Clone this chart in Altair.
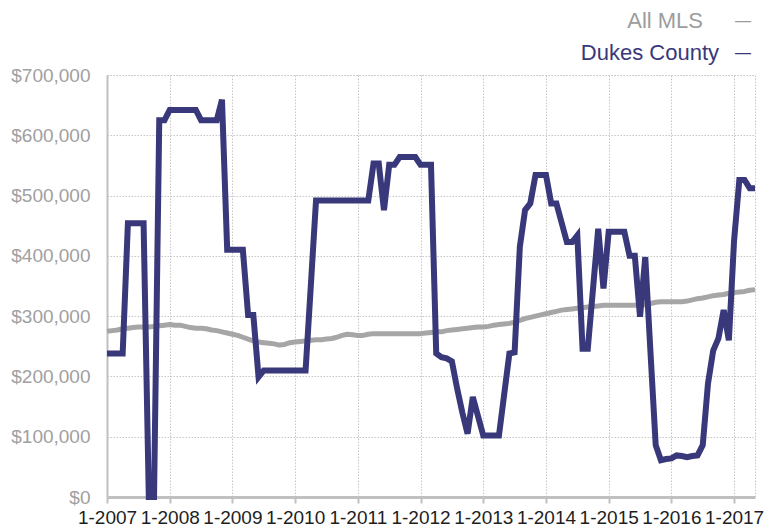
import json
import altair as alt
import pandas as pd

# ---------------- data ----------------
series_names = ["All MLS", "Dukes County"]
series_colors = ["#a6a6a6", "#38387a"]
legend_text_colors = ["#9c9c9c", "#38387a"]

tick_positions = [0, 12, 24, 36, 48, 60, 72, 84, 96, 108, 120]
tick_labels = ["1-2007", "1-2008", "1-2009", "1-2010", "1-2011", "1-2012",
               "1-2013", "1-2014", "1-2015", "1-2016", "1-2017"]
y_tick_values = [0, 100000, 200000, 300000, 400000, 500000, 600000, 700000]

# monthly values, Jan 2007 .. May 2017, in thousands of dollars
all_mls_k = [
    275, 276, 277, 279, 280, 281, 282, 282, 282, 283, 284, 285,   # 2007
    286, 285, 285, 283, 281, 280, 280, 279, 277, 276, 274, 272,   # 2008
    270, 268, 265, 262, 259, 257, 256, 255, 254, 252, 253, 256,   # 2009
    257, 258, 259, 260, 261, 261, 262, 263, 265, 268, 270, 269,   # 2010
    268, 268, 270, 271, 271, 271, 271, 271, 271, 271, 271, 271,   # 2011
    271, 272, 273, 274, 274, 276, 277, 278, 279, 280, 281, 282,   # 2012
    282, 283, 285, 286, 287, 288, 290, 293, 296, 298, 300, 302,   # 2013
    304, 306, 308, 310, 311, 312, 313, 314, 315, 316, 317, 318,   # 2014
    318, 318, 318, 318, 318, 318, 318, 319, 321, 323, 324, 324,   # 2015
    324, 324, 324, 325, 327, 329, 330, 332, 334, 335, 336, 338,   # 2016
    339, 340, 341, 343, 344,                                     # 2017
]

dukes_k = [
    238, 238, 238, 238, 454, 454, 454, 454, 0, 0, 625, 625,       # 2007
    642, 642, 642, 642, 642, 642, 625, 625, 625, 625, 659, 410,   # 2008
    410, 410, 410, 302, 302, 199, 210, 210, 210, 210, 210, 210,   # 2009
    210, 210, 210, 350, 492, 492, 492, 492, 492, 492, 492, 492,   # 2010
    492, 492, 492, 553, 553, 476, 551, 551, 564, 564, 564, 564,   # 2011
    551, 551, 551, 238, 232, 230, 225, 180, 140, 105, 166, 134,   # 2012
    102, 102, 102, 102, 170, 238, 240, 415, 476, 487, 534, 534,   # 2013
    534, 487, 487, 455, 423, 423, 434, 246, 246, 345, 445, 346,   # 2014
    440, 440, 440, 440, 400, 400, 299, 398, 240, 86, 61, 63,      # 2015
    64, 69, 68, 66, 68, 69, 86, 188, 243, 263, 310, 260,          # 2016
    426, 526, 526, 512, 512,                                     # 2017
]

assert len(all_mls_k) == len(dukes_k) == 125

months = list(range(len(dukes_k)))
df_mls = pd.DataFrame({"month": months, "value": [v * 1000 for v in all_mls_k],
                       "series": series_names[0]})
df_dukes = pd.DataFrame({"month": months, "value": [v * 1000 for v in dukes_k],
                         "series": series_names[1]})

# ---------------- chart ----------------
W, H = 648, 422
FONT = "Liberation Sans"
GRID = "#c6c6c6"
AXIS = "#c0c0c0"

label_expr = json.dumps(tick_labels) + "[round(datum.value / 12)]"

x_enc = alt.X(
    "month:Q",
    scale=alt.Scale(domain=[0, months[-1]], nice=False, zero=False),
    axis=alt.Axis(values=tick_positions, labelExpr=label_expr, title=None,
                  grid=True, gridColor=GRID, gridDash=[1.5, 1.5], gridWidth=1,
                  domainColor=AXIS, domainWidth=3, tickColor=AXIS, tickWidth=2,
                  tickSize=6, labelFontSize=19, labelColor="#1e1e1e",
                  labelFont=FONT, labelPadding=5, labelFlush=False,
                  labelOverlap=False),
)
y_enc = alt.Y(
    "value:Q",
    scale=alt.Scale(domain=[0, 700000], nice=False),
    axis=alt.Axis(values=y_tick_values, format="$,.0f", title=None, ticks=False,
                  grid=True, gridColor=GRID, gridDash=[1.5, 1.5], gridWidth=1,
                  domainColor=AXIS, domainWidth=2, labelFontSize=19,
                  labelColor="#a0a0a0", labelFont=FONT, labelPadding=17),
)

mls_line = alt.Chart(df_mls).mark_line(
    strokeWidth=5, color=series_colors[0], strokeJoin="round"
).encode(x=x_enc, y=y_enc)

dukes_line = alt.Chart(df_dukes).mark_line(
    strokeWidth=6, color=series_colors[1], strokeJoin="miter"
).encode(x=x_enc, y=y_enc)

legend_layers = []
legend_y = [-54, -22]
legend_text_right = [596, 612]
for name, col, ly, lx in zip(series_names, legend_text_colors, legend_y, legend_text_right):
    one = pd.DataFrame({"label": [name]})
    legend_layers.append(
        alt.Chart(one).mark_text(align="right", baseline="middle", fontSize=22,
                                 font=FONT, color=col)
        .encode(text="label:N", x=alt.value(lx), y=alt.value(ly))
    )
    legend_layers.append(
        alt.Chart(one).mark_text(align="right", baseline="middle", fontSize=16,
                                 font=FONT, color=col, text="\u2014")
        .encode(x=alt.value(644), y=alt.value(ly))
    )

chart = alt.layer(mls_line, dukes_line, *legend_layers).properties(
    width=W, height=H,
    autosize=alt.AutoSizeParams(type="none"),
    padding={"left": 99, "top": 67, "right": 12, "bottom": 30},
).configure_view(
    stroke=GRID, strokeDash=[1.5, 1.5], strokeWidth=1
)

chart.save("out.html", embed_options={"renderer": "svg", "actions": False})
